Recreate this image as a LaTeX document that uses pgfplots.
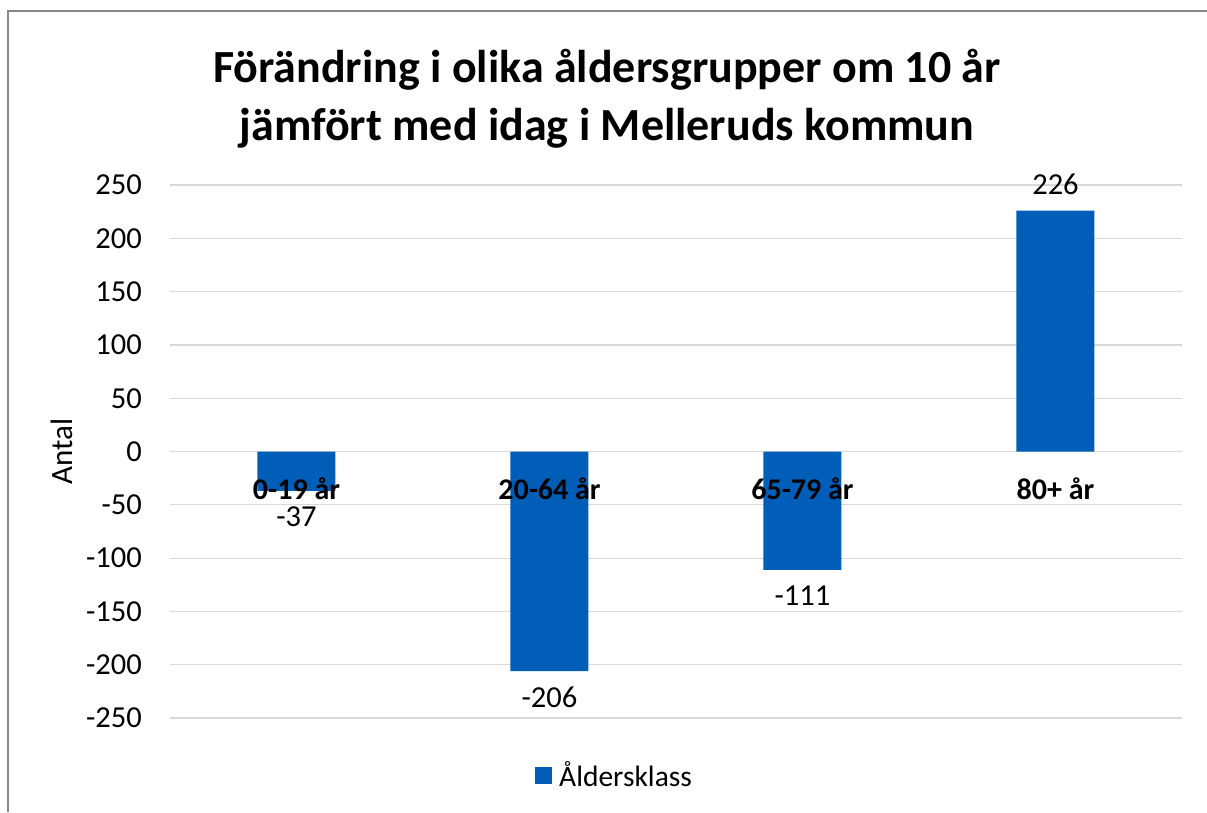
\documentclass[border=0pt]{standalone}
\usepackage{pgfplots}
\pgfplotsset{compat=1.18}
\usepackage{fontspec}
\setmainfont{Carlito}
\definecolor{barblue}{HTML}{005EB8}
\definecolor{gridgray}{HTML}{D9D9D9}
\begin{document}
\begin{tikzpicture}
\path[use as bounding box] (0pt,0pt) rectangle (1207pt,-812pt);
\draw[color={rgb,255:red,136;green,136;blue,136}, line width=1.6pt] (8pt,-812pt) -- (8pt,-11pt) -- (1207pt,-11pt);
\begin{axis}[
  at={(170pt,-718pt)}, anchor=south west,
  scale only axis, width=1012pt, height=533pt,
  ybar, bar width=78pt,
  xmin=-0.5, xmax=3.5, ymin=-250, ymax=250,
  enlarge x limits=false, enlarge y limits=false,
  axis line style={draw=none},
  xtick={0,1,2,3},
  xticklabels={},
  ytick distance=50,
  major tick style={draw=none},
  ymajorgrids, grid style={gridgray, line width=1.2pt},
  /pgf/number format/assume math mode=true,
  yticklabel style={font=\fontsize{30.5}{34}\selectfont, anchor=east, inner sep=0pt, xshift=-28pt},
  ylabel={Antal},
  every axis y label/.style={at={(axis description cs:-0.1067,0.5)}, rotate=90, anchor=center, font=\fontsize{31}{34}\selectfont},
  title={Förändring i olika åldersgrupper om 10 år\\jämfört med idag i Melleruds kommun},
  title style={at={(axis description cs:0.4318,1.150)}, anchor=center, align=center, font=\fontsize{46}{58}\selectfont\bfseries},
  nodes near coords,
  nodes near coords align={vertical},
  every node near coord/.append style={font=\fontsize{30.5}{34}\selectfont, text=black, inner ysep=16pt},
  clip=false,
  legend style={at={(axis description cs:0.4418,-0.107)}, anchor=center, draw=none, fill=none, font=\fontsize{29.5}{34}\selectfont},
  legend image code/.code={\fill[barblue] (0pt,-8.5pt) rectangle (17pt,8.5pt);},
  legend style={/tikz/every node/.append style={inner xsep=7pt}},
]
\addplot[fill=barblue, draw=none] coordinates {(0,-37) (1,-206) (2,-111) (3,226)};
\addlegendentry{Åldersklass}
\node[anchor=base, inner sep=0pt, font=\fontsize{30}{34}\selectfont\bfseries] at ([yshift=-47.5pt]axis cs:0,0) {0-19 år};
\node[anchor=base, inner sep=0pt, font=\fontsize{30}{34}\selectfont\bfseries] at ([yshift=-47.5pt]axis cs:1,0) {20-64 år};
\node[anchor=base, inner sep=0pt, font=\fontsize{30}{34}\selectfont\bfseries] at ([yshift=-47.5pt]axis cs:2,0) {65-79 år};
\node[anchor=base, inner sep=0pt, font=\fontsize{30}{34}\selectfont\bfseries] at ([yshift=-47.5pt]axis cs:3,0) {80+ år};
\end{axis}
\end{tikzpicture}
\end{document}
